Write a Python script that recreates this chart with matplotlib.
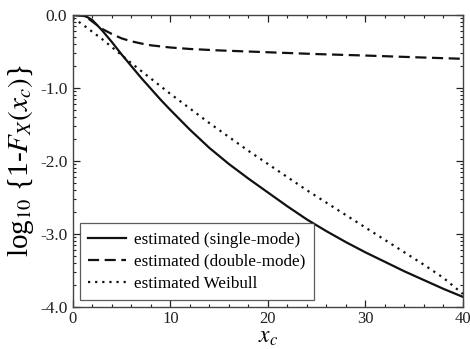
import matplotlib
matplotlib.use("Agg")
import matplotlib.pyplot as plt
import numpy as np
from matplotlib.ticker import FixedLocator, MultipleLocator

plt.rcParams['font.family'] = 'Liberation Serif'
plt.rcParams['mathtext.fontset'] = 'stix'

# values (log10 of the exceedance probability)
x_single = [0, 1, 1.5, 2, 3, 4, 5, 6, 7, 8, 9, 10, 12, 14, 16, 18, 20,
            22, 24, 26, 28, 30, 32, 34, 36, 38, 40]
y_single = [0, -0.005, -0.03, -0.07, -0.21, -0.37, -0.54, -0.70, -0.86, -1.01,
            -1.16, -1.30, -1.57, -1.82, -2.04, -2.24, -2.43, -2.62, -2.80,
            -2.96, -3.11, -3.25, -3.38, -3.51, -3.63, -3.75, -3.86]

x_double = [0, 1, 1.5, 2, 2.5, 3, 4, 5, 6, 7, 8, 10, 12, 15, 20, 25, 30, 35, 40]
y_double = [0, -0.01, -0.04, -0.09, -0.14, -0.19, -0.26, -0.32, -0.36, -0.39,
            -0.415, -0.445, -0.465, -0.485, -0.51, -0.535, -0.555, -0.578, -0.60]

x_weib = [0, 1, 2, 3, 4, 5, 6, 8, 10, 12, 14, 16, 18, 20, 22, 24, 26, 28,
          30, 32, 34, 36, 38, 40]
y_weib = [-0.04, -0.13, -0.23, -0.33, -0.44, -0.55, -0.66, -0.87, -1.08,
          -1.28, -1.48, -1.67, -1.86, -2.04, -2.22, -2.40, -2.57, -2.74,
          -2.91, -3.08, -3.25, -3.42, -3.60, -3.82]

labels = ['estimated (single-mode)', 'estimated (double-mode)', 'estimated Weibull']

fig = plt.figure(figsize=(4.70, 3.49), dpi=100)
ax = fig.add_axes([0.155, 0.12, 0.83, 0.837])

ax.plot(x_single, y_single, color='#111111', lw=1.6, ls='-', label=labels[0])
ax.plot(x_double, y_double, color='#111111', lw=1.6, ls=(0, (5, 2.5)), label=labels[1])
ax.plot(x_weib, y_weib, color='#111111', lw=1.6, ls=(0, (1, 2.2)), label=labels[2])

ax.set_xlim(0, 40)
ax.set_ylim(-4, 0)
ax.xaxis.set_major_locator(MultipleLocator(10))
ax.xaxis.set_minor_locator(MultipleLocator(2))
ax.yaxis.set_major_locator(MultipleLocator(1))
# log-style minor ticks inside each decade
minor_y = [d + np.log10(k) for d in range(-4, 0) for k in range(2, 10)]
ax.yaxis.set_minor_locator(FixedLocator(minor_y))
ax.set_yticklabels([f'{v:.1f}'.replace('−', '-') for v in ax.get_yticks()])
ax.tick_params(which='both', direction='in', top=True, right=True,
               colors='#222222')
ax.tick_params(axis='y', pad=4, labelsize=12.5)
ax.tick_params(axis='x', pad=3, labelsize=12)
ax.tick_params(which='major', length=5, width=0.9)
ax.tick_params(which='minor', length=2.5, width=0.8)
for s in ax.spines.values():
    s.set_linewidth(1.0)
    s.set_color('#444444')

ax.set_xlabel(r'$x_c$', fontsize=17, labelpad=0)
ax.set_ylabel(r'log$_{10}$ {1-$F_X(x_c)$}', fontsize=21, labelpad=3)

leg = ax.legend(loc='lower left', fontsize=12.3, frameon=True, fancybox=False,
                edgecolor='#333333', handlelength=2.2, handletextpad=0.5,
                borderaxespad=0.4, borderpad=0.5, labelspacing=0.35)
leg.get_frame().set_linewidth(0.9)

fig.savefig('out.png', dpi=100)
